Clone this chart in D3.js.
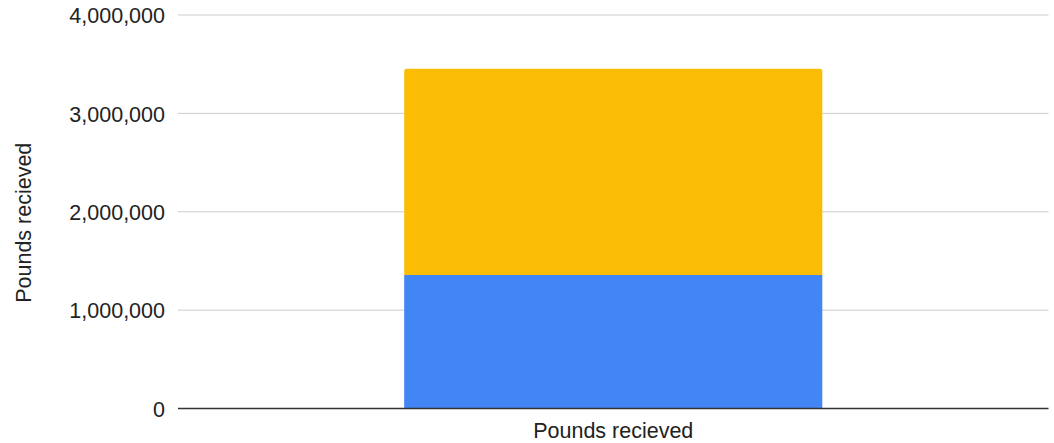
<!DOCTYPE html>
<html><head><meta charset="utf-8">
<script src="https://cdn.jsdelivr.net/npm/d3@7"></script>
<style>body{margin:0;background:#fff;}text{font-family:"Liberation Sans",Arial,sans-serif;}</style>
</head><body><svg id="c" width="1054" height="443"></svg>
<script>
const categories = ["Pounds recieved"];
const seriesNames = ["Series A", "Series B"];
const seriesA = [1357000];
const seriesB = [2097000];
const tickValues = [0, 1000000, 2000000, 3000000, 4000000];
const colors = ["#4285f4", "#fbbc04"];

const FS = 21.5;
const svg = d3.select("#c");
const m = {l:178, r:5.5, t:15, b:34.5};
const W = 1054, H = 443;
const x = d3.scaleBand().domain(categories).range([m.l, W - m.r]).paddingInner(0).paddingOuter(0.541);
const y = d3.scaleLinear().domain([0, 4000000]).range([H - m.b, m.t]);

svg.selectAll("line.grid").data(tickValues.filter(d=>d>0)).join("line")
  .attr("class","grid")
  .attr("x1", m.l).attr("x2", W - m.r)
  .attr("y1", d=>y(d)).attr("y2", d=>y(d))
  .attr("stroke", "#cccccc").attr("stroke-width", 1);

const yAxis = d3.axisLeft(y).tickValues(tickValues).tickSize(0).tickPadding(13)
  .tickFormat(d3.format(","));
const ya = svg.append("g").attr("transform", `translate(${m.l},0)`).call(yAxis);
ya.select(".domain").remove();
ya.selectAll("text").attr("font-size", FS).attr("fill", "#222").attr("dy", "0.36em");

const stackData = categories.map((c,i)=>({cat:c, a:seriesA[i], b:seriesB[i]}));
const stack = d3.stack().keys(["a","b"])(stackData);

const bw = x.bandwidth();
stack.forEach((layer, li) => {
  layer.forEach(d => {
    const x0 = x(d.data.cat), y0 = y(d[0]), y1 = y(d[1]);
    if (li === stack.length - 1) {
      const r = 2.5;
      const p = d3.path();
      p.moveTo(x0, y0);
      p.lineTo(x0, y1 + r);
      p.quadraticCurveTo(x0, y1, x0 + r, y1);
      p.lineTo(x0 + bw - r, y1);
      p.quadraticCurveTo(x0 + bw, y1, x0 + bw, y1 + r);
      p.lineTo(x0 + bw, y0);
      p.closePath();
      svg.append("path").attr("d", p.toString()).attr("fill", colors[li]);
    } else {
      svg.append("rect").attr("x", x0).attr("y", y1).attr("width", bw).attr("height", y0 - y1).attr("fill", colors[li]);
    }
  });
});

svg.append("line").attr("x1", m.l).attr("x2", W - m.r).attr("y1", y(0)).attr("y2", y(0))
  .attr("stroke", "#333").attr("stroke-width", 1.5);

const xAxis = d3.axisBottom(x).tickSize(0).tickPadding(0);
const xa = svg.append("g").attr("transform", `translate(0,${y(0)})`).call(xAxis);
xa.select(".domain").remove();
xa.selectAll("text").attr("font-size", FS).attr("fill", "#222").attr("dy", null).attr("y", 29.5);

svg.append("text").attr("transform", `translate(30.5,${(m.t + H - m.b)/2 + 11}) rotate(-90)`)
  .attr("text-anchor", "middle").attr("font-size", FS).attr("fill", "#222").text("Pounds recieved");
</script></body></html>
